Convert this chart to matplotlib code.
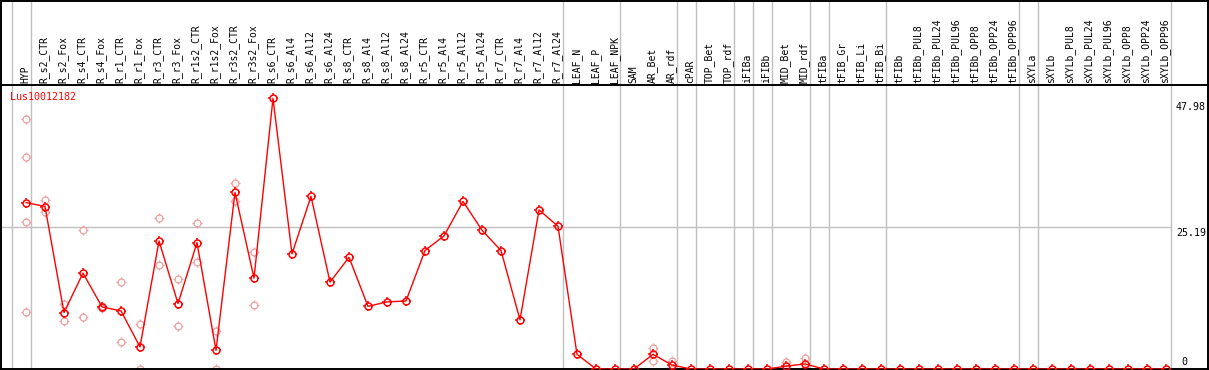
import numpy as np
import matplotlib
matplotlib.use("Agg")
import matplotlib.pyplot as plt
from matplotlib.path import Path

# ---------------- data ----------------
gene = "Lus10012182"
categories = [
    "HYP", "R_s2_CTR", "R_s2_Fox", "R_s4_CTR", "R_s4_Fox", "R_r1_CTR", "R_r1_Fox",
    "R_r3_CTR", "R_r3_Fox", "R_r1s2_CTR", "R_r1s2_Fox", "R_r3s2_CTR", "R_r3s2_Fox",
    "R_s6_CTR", "R_s6_Al4", "R_s6_Al12", "R_s6_Al24", "R_s8_CTR", "R_s8_Al4",
    "R_s8_Al12", "R_s8_Al24", "R_r5_CTR", "R_r5_Al4", "R_r5_Al12", "R_r5_Al24",
    "R_r7_CTR", "R_r7_Al4", "R_r7_Al12", "R_r7_Al24", "LEAF_N", "LEAF_P", "LEAF_NPK",
    "SAM", "AR_Bet", "AR_rdf", "cPAR", "TOP_Bet", "TOP_rdf", "iFIBa", "iFIBb",
    "MID_Bet", "MID_rdf", "tFIBa", "tFIB_Gr", "tFIB_Li", "tFIB_Bi", "tFIBb",
    "tFIBb_PUL8", "tFIBb_PUL24", "tFIBb_PUL96", "tFIBb_OPP8", "tFIBb_OPP24",
    "tFIBb_OPP96", "sXYLa", "sXYLb", "sXYLb_PUL8", "sXYLb_PUL24", "sXYLb_PUL96",
    "sXYLb_OPP8", "sXYLb_OPP24", "sXYLb_OPP96",
]
mean_values = [
    29.5, 28.8, 10.0, 17.0, 11.0, 10.3, 3.9, 22.7, 11.6, 22.4, 3.3, 31.3, 16.1,
    47.98, 20.4, 30.6, 15.4, 19.8, 11.1, 11.9, 12.05, 21.0, 23.6, 29.7, 24.6,
    21.0, 8.7, 28.2, 25.3, 2.6, 0.0, 0.0,
    0.0, 2.6, 0.7, 0.0, 0.0, 0.0, 0.0, 0.0,
    0.5, 0.9, 0.0, 0.0, 0.0, 0.0, 0.0,
    0.0, 0.0, 0.0, 0.0, 0.0, 0.0,
    0.0, 0.0, 0.0, 0.0, 0.0, 0.0, 0.0, 0.0,
]
replicates = {
    "HYP": [44.3, 37.5, 26.0, 10.05],
    "R_s2_CTR": [29.95, 27.8],
    "R_s2_Fox": [11.6, 8.45],
    "R_s4_CTR": [24.6, 9.15],
    "R_s4_Fox": [11.2, 10.8],
    "R_r1_CTR": [15.5, 4.7],
    "R_r1_Fox": [7.9, 0.05],
    "R_r3_CTR": [26.7, 18.4],
    "R_r3_Fox": [15.9, 7.6],
    "R_r1s2_CTR": [25.8, 18.9],
    "R_r1s2_Fox": [6.8, 0.05],
    "R_r3s2_CTR": [32.9, 29.7],
    "R_r3s2_Fox": [20.7, 11.3],
    "AR_Bet": [3.8, 1.35],
    "AR_rdf": [1.5, 0.0],
    "MID_Bet": [1.25, 0.0],
    "MID_rdf": [1.9, 0.0],
}
axis_labels = ["47.98", "25.19", "0"]
grid_value = 25.19
# group separators: drawn after these category indices (-1 = before first)
separator_after = [-1, 0, 28, 31, 34, 35, 37, 38, 39, 41, 42, 45, 52, 53, 60]

# ---------------- layout ----------------
W, H = 1209, 370
fig = plt.figure(figsize=(W / 100, H / 100), dpi=100)
fig.patch.set_facecolor("white")

step = 19.0
x0px = 26.0
ax_left_px, ax_right_px = 1.0, 1208.0
xl = (-(x0px - ax_left_px) / step, (ax_right_px - x0px) / step)
sep_off = 4.5 / step

px_per_unit = (369.0 - 98.3) / 47.98
top_px, bot_px, head_px = 86.0, 369.0, 85.0
ymax = (bot_px - top_px) / px_per_unit

ax = fig.add_axes([ax_left_px / W, (H - bot_px) / H,
                   (ax_right_px - ax_left_px) / W, (bot_px - top_px) / H])
hx = fig.add_axes([ax_left_px / W, (H - head_px) / H,
                   (ax_right_px - ax_left_px) / W, (head_px - 0.5) / H])

grey = "#c0c0c0"
for a in (ax, hx):
    a.set_xlim(*xl)
    a.set_xticks([])
    a.set_yticks([])
    for s in a.spines.values():
        s.set_color("black")
        s.set_linewidth(1.4)
    for k in separator_after:
        a.axvline(k + sep_off, color=grey, lw=1.0, zorder=1)

ax.spines["top"].set_visible(False)
ax.set_ylim(0, ymax)
hx.set_ylim(0, 1)

# horizontal grid line up to last separator
ax.plot([xl[0], separator_after[-1] + sep_off], [grid_value, grid_value],
        color=grey, lw=1.0, zorder=1)

# header labels
for i, c in enumerate(categories):
    hx.text(i - 0.05, 2.0 / 84.5, c, rotation=90, ha="center", va="bottom",
            fontsize=7, family="DejaVu Sans Mono", color="black")

# tick marks around the circle marker
t = 1.5
tick_marker = Path([(0, 1), (0, t), (0, -1), (0, -t), (1, 0), (t, 0), (-1, 0), (-t, 0)],
                   [Path.MOVETO, Path.LINETO] * 4)
circ_ms = 5.0
tick_ms = circ_ms * t


def draw_marks(xv, yv, color, mew, z):
    ax.plot(xv, yv, linestyle="none", marker="o", markersize=circ_ms,
            markerfacecolor="none", markeredgecolor=color, markeredgewidth=mew,
            zorder=z)
    ax.plot(xv, yv, linestyle="none", marker=tick_marker, markersize=tick_ms,
            markerfacecolor="none", markeredgecolor=color, markeredgewidth=mew,
            zorder=z)


xs = np.arange(len(categories))
# replicates
for i, c in enumerate(categories):
    if c in replicates:
        vals = replicates[c]
        draw_marks([i] * len(vals), vals, "#f0a0a0", 0.9, 2)

ax.plot(xs, mean_values, color="#ff0000", lw=1.0, zorder=3)
draw_marks(xs, mean_values, "#ff0000", 1.1, 3)

# title and axis labels
fig.text(10 / W, (H - 97) / H, gene, color="#ff0000", fontsize=7.2,
         family="DejaVu Sans Mono", ha="left", va="center")
fig.text(1206 / W, (H - 107) / H, axis_labels[0], fontsize=7.2,
         family="DejaVu Sans Mono", ha="right", va="center")
fig.text(1206 / W, (H - 233) / H, axis_labels[1], fontsize=7.2,
         family="DejaVu Sans Mono", ha="right", va="center")
fig.text(1181 / W, (H - 362) / H, axis_labels[2], fontsize=7.2,
         family="DejaVu Sans Mono", ha="left", va="center")

fig.savefig("out.png", dpi=100)
